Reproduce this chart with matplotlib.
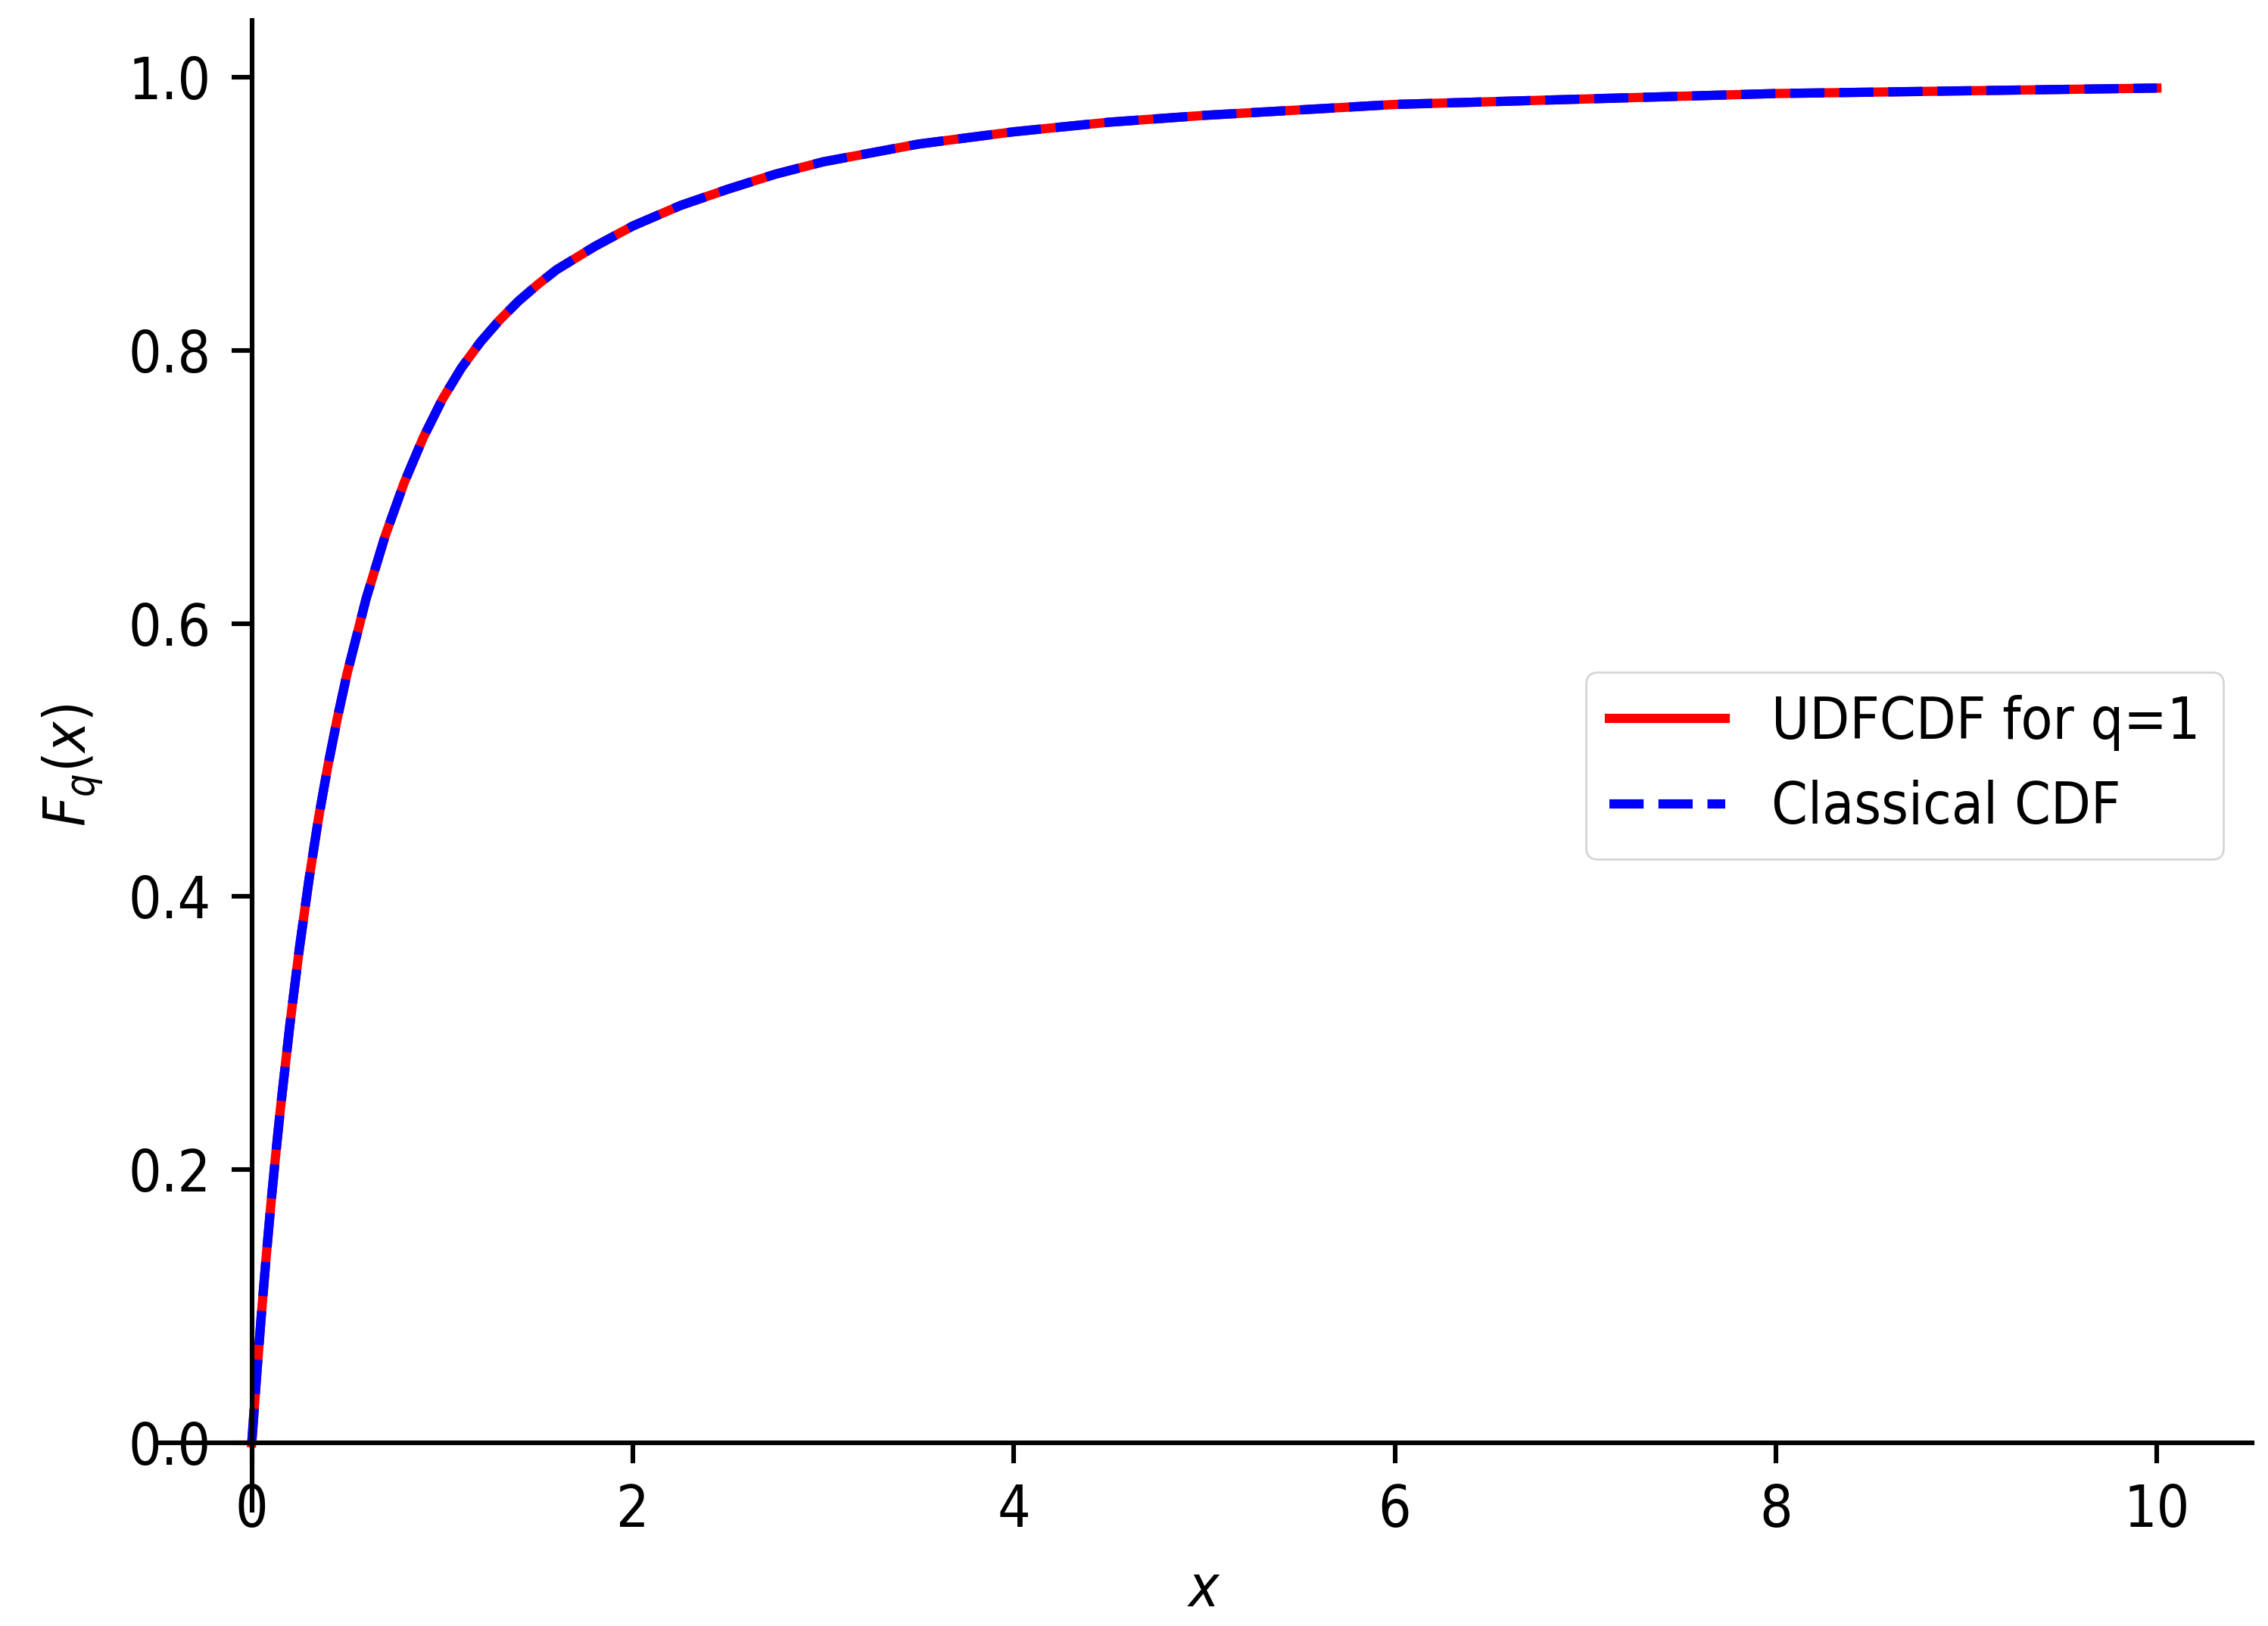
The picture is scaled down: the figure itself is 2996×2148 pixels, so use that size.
import matplotlib
matplotlib.use("Agg")
import matplotlib.pyplot as plt

# values
x = [0, 0.025, 0.05, 0.075, 0.1, 0.125, 0.15, 0.2, 0.25, 0.3, 0.35, 0.4, 0.45, 0.5,
     0.6, 0.7, 0.8, 0.9, 1.0, 1.1, 1.2, 1.3, 1.4, 1.5, 1.6, 1.8, 2.0, 2.25, 2.5,
     2.75, 3.0, 3.5, 4.0, 4.5, 5.0, 6.0, 7.0, 8.0, 9.0, 10.0]
udf_cdf = [0.0, 0.048, 0.093, 0.135, 0.174, 0.210, 0.244, 0.306, 0.362, 0.412, 0.457,
           0.496, 0.531, 0.563, 0.618, 0.664, 0.703, 0.736, 0.764, 0.787, 0.806,
           0.822, 0.836, 0.848, 0.859, 0.876, 0.891, 0.906, 0.918, 0.929, 0.938,
           0.951, 0.960, 0.967, 0.972, 0.980, 0.984, 0.988, 0.990, 0.992]
classical_cdf = [0.0, 0.048, 0.093, 0.135, 0.174, 0.210, 0.244, 0.306, 0.362, 0.412, 0.457,
                 0.496, 0.531, 0.563, 0.618, 0.664, 0.703, 0.736, 0.764, 0.787, 0.806,
                 0.822, 0.836, 0.848, 0.859, 0.876, 0.891, 0.906, 0.918, 0.929, 0.938,
                 0.951, 0.960, 0.967, 0.972, 0.980, 0.984, 0.988, 0.990, 0.992]

s = 2.75  # scale factor vs. default sizes
plt.rcParams.update({
    'font.family': 'DejaVu Sans',
    'font.stretch': 'condensed',
    'font.size': 10 * s,
    'axes.linewidth': 0.8 * s,
    'xtick.major.size': 3.5 * s, 'ytick.major.size': 3.5 * s,
    'xtick.major.width': 0.8 * s, 'ytick.major.width': 0.8 * s,
    'xtick.major.pad': 3.5 * s, 'ytick.major.pad': 3.5 * s,
    'axes.labelpad': 4 * s,
    'legend.fontsize': 10 * s,
})

fig = plt.figure(figsize=(14.98, 10.74), dpi=200)
ax = fig.add_axes([0.069, 0.071, 0.924, 0.9165])

ax.plot(x, udf_cdf, color='red', lw=1.6 * s, label='UDFCDF for q=1')
ax.plot(x, classical_cdf, color='blue', lw=1.6 * s, ls='--', label='Classical CDF')

ax.spines['left'].set_position('zero')
ax.spines['bottom'].set_position('zero')
ax.spines['top'].set_visible(False)
ax.spines['right'].set_visible(False)

ax.set_xlabel(r'$x$')
ax.set_ylabel(r'$F_q(x)$')
ax.legend(loc='center right')

fig.savefig('out.png', dpi=200)
